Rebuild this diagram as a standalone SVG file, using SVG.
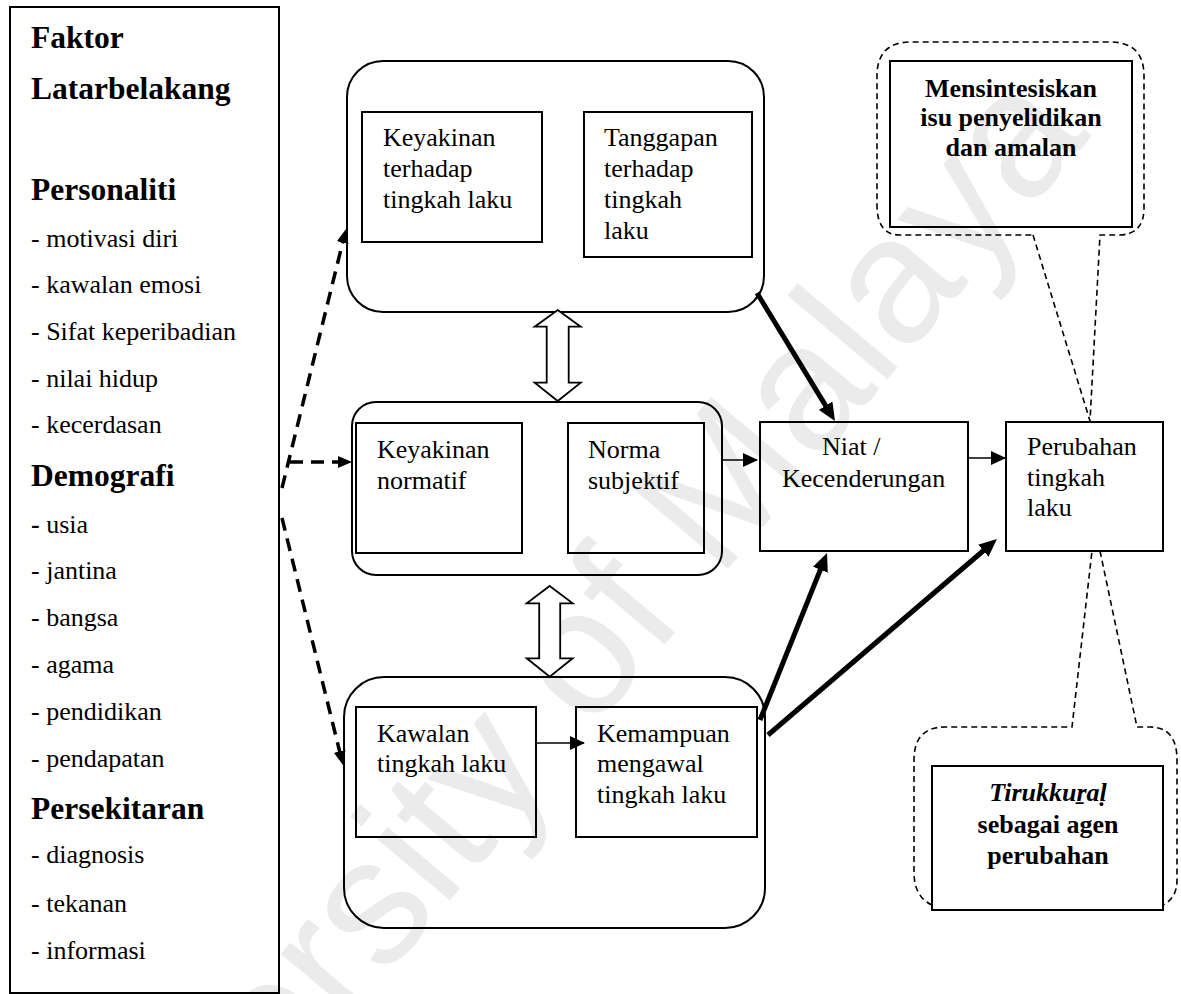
<svg xmlns="http://www.w3.org/2000/svg" width="1181" height="994" viewBox="0 0 1181 994">
<style>
text{font-family:"Liberation Serif","Times New Roman","DejaVu Serif",serif;fill:#000}
.t{font-size:26px}
.h{font-size:31.5px;font-weight:bold}
.b{font-size:26px;font-weight:bold}
.box{fill:none;stroke:#000;stroke-width:2}
.dbl{fill:#fff;stroke:#000;stroke-width:1.8;stroke-linejoin:miter}
.thick{stroke:#000;stroke-width:5;fill:none}
.dash{stroke:#000;stroke-width:3.5;fill:none;stroke-dasharray:13 8}
.thin{stroke:#000;stroke-width:1.6;fill:none}
.call{fill:none;stroke:#000;stroke-width:1.6;stroke-dasharray:6 4}
.wm{font-family:"Liberation Sans",Arial,sans-serif;font-size:180px;fill:#ebebeb}
</style>
<defs>
<marker id="mThick" markerUnits="userSpaceOnUse" markerWidth="18" markerHeight="16" refX="5" refY="8" orient="auto"><path d="M0,0 L18,8 L0,16 z" fill="#000"/></marker>
<marker id="mDash" markerUnits="userSpaceOnUse" markerWidth="14" markerHeight="12" refX="4" refY="6" orient="auto"><path d="M0,0 L14,6 L0,12 z" fill="#000"/></marker>
<marker id="mThin" markerUnits="userSpaceOnUse" markerWidth="15" markerHeight="14" refX="14" refY="7" orient="auto"><path d="M0,0 L15,7 L0,14 z" fill="#000"/></marker>
</defs>
<rect width="1181" height="994" fill="#fff"/>
<text class="wm" x="0" y="0" transform="translate(50,1377) rotate(-50)">University of Malaya</text>

<g id="faktor-latarbelakang">
<rect class="box" x="10" y="7" width="269" height="986"/>
<text class="h" x="31" y="48">Faktor</text>
<text class="h" x="31" y="99">Latarbelakang</text>
<text class="h" x="31" y="200">Personaliti</text>
<text class="t" x="31" y="247">- motivasi diri</text>
<text class="t" x="31" y="293">- kawalan emosi</text>
<text class="t" x="31" y="340">- Sifat keperibadian</text>
<text class="t" x="31" y="387">- nilai hidup</text>
<text class="t" x="31" y="433">- kecerdasan</text>
<text class="h" x="31" y="486">Demografi</text>
<text class="t" x="31" y="533"><tspan font-weight="bold">-</tspan> usia</text>
<text class="t" x="31" y="579">- jantina</text>
<text class="t" x="31" y="626">- bangsa</text>
<text class="t" x="31" y="673">- agama</text>
<text class="t" x="31" y="720">- pendidikan</text>
<text class="t" x="31" y="767">- pendapatan</text>
<text class="h" x="31" y="819">Persekitaran</text>
<text class="t" x="31" y="863">- diagnosis</text>
<text class="t" x="31" y="912">- tekanan</text>
<text class="t" x="31" y="959">- informasi</text>
</g>

<g id="sikap">
<rect class="box" x="347" y="61" width="417" height="251" rx="36"/>
<g id="keyakinan-terhadap-tingkah-laku">
<rect class="box" x="362" y="112" width="180" height="130"/>
<text class="t" x="383" y="146">Keyakinan</text>
<text class="t" x="383" y="177">terhadap</text>
<text class="t" x="383" y="208">tingkah laku</text>
</g>
<g id="tanggapan-terhadap-tingkah-laku">
<rect class="box" x="584" y="112" width="168" height="145"/>
<text class="t" x="604" y="146">Tanggapan</text>
<text class="t" x="604" y="177">terhadap</text>
<text class="t" x="604" y="208">tingkah</text>
<text class="t" x="604" y="239">laku</text>
</g>
</g>

<g id="norma">
<rect class="box" x="352" y="402" width="370" height="173" rx="24"/>
<g id="keyakinan-normatif">
<rect class="box" x="356" y="423" width="166" height="130"/>
<text class="t" x="377" y="458">Keyakinan</text>
<text class="t" x="377" y="489">normatif</text>
</g>
<g id="norma-subjektif">
<rect class="box" x="568" y="423" width="136" height="130"/>
<text class="t" x="588" y="458">Norma</text>
<text class="t" x="588" y="489">subjektif</text>
</g>
</g>

<g id="kawalan">
<rect class="box" x="344" y="677" width="421" height="251" rx="40"/>
<g id="kawalan-tingkah-laku">
<rect class="box" x="356" y="707" width="180" height="130"/>
<text class="t" x="377" y="742">Kawalan</text>
<text class="t" x="377" y="772">tingkah laku</text>
</g>
<g id="kemampuan-mengawal">
<rect class="box" x="576" y="707" width="181" height="130"/>
<text class="t" x="597" y="742">Kemampuan</text>
<text class="t" x="597" y="772">mengawal</text>
<text class="t" x="597" y="803">tingkah laku</text>
</g>
</g>

<g id="niat">
<rect class="box" x="760" y="422" width="208" height="129"/>
<text class="t" x="822" y="455">Niat /</text>
<text class="t" x="782" y="487">Kecenderungan</text>
</g>

<g id="perubahan">
<rect class="box" x="1006" y="422" width="157" height="129"/>
<text class="t" x="1027" y="455">Perubahan</text>
<text class="t" x="1027" y="486">tingkah</text>
<text class="t" x="1027" y="516">laku</text>
</g>

<g id="mensintesiskan">
<path class="call" d="M1033,235 L1090,421 L1100,235 L1118,235 Q1144,235 1144,208 L1144,76 Q1144,42 1110,42 L911,42 Q877,42 877,76 L877,205 Q877,235 900,235 Z"/>
<rect class="box" x="890" y="61" width="242" height="166"/>
<text class="b" x="1011" y="97" text-anchor="middle">Mensintesiskan</text>
<text class="b" x="1011" y="126" text-anchor="middle">isu penyelidikan</text>
<text class="b" x="1011" y="156" text-anchor="middle">dan amalan</text>
</g>

<g id="tirukkural">
<path class="call" d="M932,905 Q914,897 914,872 L914,760 Q914,727 945,727 L1072,727 L1092,551 M1100,551 L1137,727 L1150,727 Q1177,727 1177,760 L1177,880 Q1177,898 1163,905"/>
<rect class="box" x="932" y="766" width="231" height="144"/>
<text class="b" x="1048" y="801" text-anchor="middle"><tspan font-style="italic">Tirukkuṟaḷ</tspan></text>
<text class="b" x="1048" y="833" text-anchor="middle">sebagai agen</text>
<text class="b" x="1048" y="864" text-anchor="middle">perubahan</text>
</g>

<g id="connectors">
<line class="dash" x1="282" y1="488" x2="343.6" y2="238.7" marker-end="url(#mDash)"/>
<line class="dash" x1="290" y1="462" x2="342" y2="462" marker-end="url(#mDash)"/>
<line class="dash" x1="282" y1="518" x2="340.6" y2="755.3" marker-end="url(#mDash)"/>
<polygon class="dbl" points="557.7,310 580.7,326.7 568.7,326.7 568.7,382.7 580.7,382.7 557.7,401 534.7,382.7 546.7,382.7 546.7,326.7 534.7,326.7"/>
<polygon class="dbl" points="549.7,586 572.7,603.3 560.2,603.3 560.2,658.3 572.7,658.3 549.7,676.7 526.7,658.3 539.2,658.3 539.2,603.3 526.7,603.3"/>
<line class="thin" x1="722" y1="460" x2="757" y2="460" marker-end="url(#mThin)"/>
<line class="thin" x1="968" y1="458" x2="1005" y2="458" marker-end="url(#mThin)"/>
<line class="thin" x1="536" y1="743" x2="584" y2="743" marker-end="url(#mThin)"/>
<line class="thick" x1="757" y1="293" x2="828.2" y2="409.9" marker-end="url(#mThick)"/>
<line class="thick" x1="760" y1="720" x2="822.2" y2="565.1" marker-end="url(#mThick)"/>
<line class="thick" x1="768" y1="735" x2="987.1" y2="547.5" marker-end="url(#mThick)"/>
</g>
</svg>
